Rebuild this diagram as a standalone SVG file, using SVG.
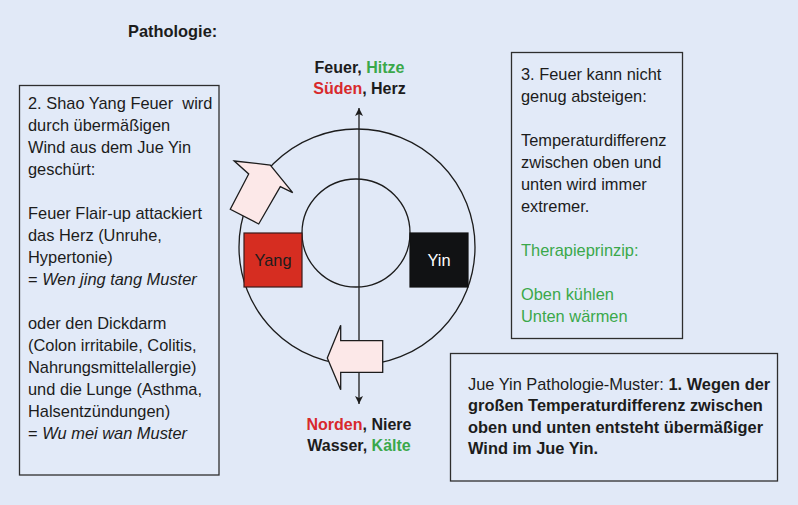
<svg xmlns="http://www.w3.org/2000/svg" width="798" height="505" viewBox="0 0 798 505">
<defs>
<style>
text{font-family:"Liberation Sans",Arial,sans-serif;font-size:16.4px;fill:#1c1c1c}
.b{font-weight:bold}
.lb{font-size:16px}
.i{font-style:italic}
.red{fill:#d8292c}
.grn{fill:#3aa84a}
.box{fill:#e2eaf8;stroke:#2e2e2e;stroke-width:1.3}
.ring{fill:none;stroke:#1c1c1c;stroke-width:1.3}
.blk{fill:#fce8e8;stroke:#1c1c1c;stroke-width:1.3;stroke-linejoin:miter}
.c{text-anchor:middle}
</style>
<marker id="ah" viewBox="0 0 10 10" refX="10" refY="5" markerWidth="8" markerHeight="10" markerUnits="userSpaceOnUse" orient="auto-start-reverse">
<path d="M0,0 L10,5 L0,10 L2.5,5 Z" fill="#1c1c1c"/>
</marker>
</defs>
<rect x="0" y="0" width="798" height="505" fill="#e1e9f7"/>

<g id="title"><text x="128" y="37" class="b">Pathologie:</text></g>

<g id="label-top">
<text x="359.5" y="73" class="c b lb">Feuer, <tspan class="grn">Hitze</tspan></text>
<text x="359.5" y="94" class="c b lb"><tspan class="red">Süden</tspan>, Herz</text>
</g>
<g id="label-bottom">
<text x="359" y="430" class="c b lb"><tspan class="red">Norden</tspan>, Niere</text>
<text x="359" y="451" class="c b lb">Wasser, <tspan class="grn">Kälte</tspan></text>
</g>

<g id="ring">
<circle cx="357" cy="247" r="118" class="ring"/>
<circle cx="356" cy="233" r="54" class="ring"/>
</g>

<g id="connectors">
<line x1="359" y1="404" x2="359" y2="108" stroke="#1c1c1c" stroke-width="1.3" marker-start="url(#ah)" marker-end="url(#ah)"/>
<polygon class="blk" points="234.3,161 270.3,165 292.7,192.7 280.3,186.7 258.7,224 230.3,209.3 248.7,174"/>
<polygon class="blk" points="327.3,358 340.7,325.3 340.7,340.7 382.7,340.7 382.7,372.3 340.7,372.3 340.7,389.7"/>
</g>

<g id="yang">
<rect x="244" y="233" width="58" height="54" fill="#d62d21" stroke="#3a1a1a" stroke-width="1.2"/>
<text x="273" y="266" class="c">Yang</text>
</g>
<g id="yin">
<rect x="410" y="233" width="58" height="54" fill="#111214" stroke="#111" stroke-width="1.2"/>
<text x="439" y="266" class="c" style="fill:#ffffff">Yin</text>
</g>

<g id="box-2">
<rect x="19.5" y="85.5" width="199.5" height="389.5" class="box"/>
<text x="28" y="109">2. Shao Yang Feuer&#160; wird</text>
<text x="28" y="131">durch übermäßigen</text>
<text x="28" y="153">Wind aus dem Jue Yin</text>
<text x="28" y="175">geschürt:</text>
<text x="28" y="219">Feuer Flair-up attackiert</text>
<text x="28" y="241">das Herz (Unruhe,</text>
<text x="28" y="263">Hypertonie)</text>
<text x="28" y="285">= <tspan class="i">Wen jing tang Muster</tspan></text>
<text x="28" y="329">oder den Dickdarm</text>
<text x="28" y="351">(Colon irritabile, Colitis,</text>
<text x="28" y="373">Nahrungsmittelallergie)</text>
<text x="28" y="395">und die Lunge (Asthma,</text>
<text x="28" y="417">Halsentzündungen)</text>
<text x="28" y="439">= <tspan class="i">Wu mei wan Muster</tspan></text>
</g>

<g id="box-3">
<rect x="511.5" y="52.5" width="171" height="286" class="box"/>
<text x="521" y="79.5">3. Feuer kann nicht</text>
<text x="521" y="101.5">genug absteigen:</text>
<text x="521" y="145.5">Temperaturdifferenz</text>
<text x="521" y="167.5">zwischen oben und</text>
<text x="521" y="189.5">unten wird immer</text>
<text x="521" y="211.5">extremer.</text>
<text x="521" y="255.5" class="grn">Therapieprinzip:</text>
<text x="521" y="300" class="grn">Oben kühlen</text>
<text x="521" y="322" class="grn">Unten wärmen</text>
</g>

<g id="box-1">
<rect x="450.5" y="353.5" width="327" height="127.5" class="box"/>
<text x="468" y="389.5">Jue Yin Pathologie-Muster: <tspan class="b">1. Wegen der</tspan></text>
<text x="468" y="411" class="b">großen Temperaturdifferenz zwischen</text>
<text x="468" y="432.5" class="b">oben und unten entsteht übermäßiger</text>
<text x="468" y="454" class="b">Wind im Jue Yin.</text>
</g>
</svg>
